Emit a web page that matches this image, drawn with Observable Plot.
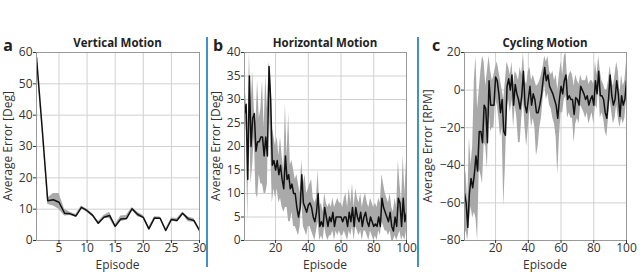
<!DOCTYPE html>
<html>
<head>
<meta charset="utf-8">
<script src="https://cdn.jsdelivr.net/npm/d3@7"></script>
<script src="https://cdn.jsdelivr.net/npm/@observablehq/plot@0.6"></script>
<style>
  html, body { margin: 0; padding: 0; background: #fff; }
  #wrap { position: relative; width: 640px; height: 272px; overflow: hidden; font-family: "Open Sans", sans-serif; color: #222; }
  .abs { position: absolute; white-space: nowrap; line-height: 1; }
  .title { font-weight: bold; font-size: 11.5px; transform: translate(-50%, -50%); }
  .letter { font-weight: bold; font-size: 16px; transform: translate(-50%, -50%); }
  .xlab { font-size: 12px; transform: translate(-50%, -50%); color: #333; }
  .ylab { font-size: 12px; transform: translate(-50%, -50%) rotate(-90deg); color: #333; }
  .sep { position: absolute; width: 1.6px; background: #3f93c9; }
</style>
</head>
<body>
<div id="wrap"></div>
<script>
// ---------- Data ----------
// Panel a: Vertical Motion (episodes 1-30)
const epA = d3.range(1, 31);
const meanA = [58.5, 36, 12.7, 13, 12.2, 8.7, 8.5, 7.8, 10.6, 9.5, 8, 5.5, 7.4, 8, 4.5, 6.9, 7, 10.1, 8.3, 7.4, 3.7, 7.2, 7.1, 3.2, 6.7, 6.4, 8.7, 6.9, 6.4, 3.2];
const lowA  = [57, 35.5, 11.5, 11, 10, 7.8, 8, 7.4, 10.2, 9, 7.5, 5, 7, 7, 4, 6, 6.5, 9.8, 7.6, 7, 3.2, 6.8, 6.7, 2.7, 6.2, 5.8, 8.3, 6, 5.8, 2.9];
const highA = [60, 36.5, 13.5, 15, 15, 10, 9, 8.3, 11, 10, 8.5, 6, 8, 9, 5, 7.8, 8, 10.5, 9, 8, 4.2, 7.6, 7.5, 3.7, 7.2, 7, 9, 7.5, 7, 3.5];

// Panel b: Horizontal Motion (episodes 1-100)
const epB = d3.range(1, 101);
const meanB = [27, 29, 13, 35, 20, 26, 27, 19, 21, 21, 22, 22, 18, 22, 18, 37, 30, 16, 17, 15,
               17, 14, 16, 13, 11, 18, 13, 14, 11, 12, 10, 10, 7, 5, 7, 14, 8, 7, 6, 7.5,
               8, 7, 5, 4, 6, 10, 3, 4, 3, 7, 5, 3, 5, 4, 6, 3, 5, 5, 5, 5,
               4, 5, 5, 3, 6, 4, 7, 3, 7, 5, 4, 6, 3, 5, 6, 4, 3, 5, 4, 3,
               3.5, 3, 5, 3, 9, 7, 6, 5, 4, 6, 3, 2, 5, 3, 9, 8, 3, 9, 4, 6];
const lowB  = [20, 25, 4, 28, 12, 16, 22, 10, 9, 14, 12, 12, 10, 10, 12, 30, 20, 8, 11, 9,
               11, 8, 9, 7, 6, 7, 7, 4, 4, 6, 3, 3, 2, 1, 3, 8, 3, 2, 1, 3,
               3, 2, 1, 0, 2, 4, 0, 1, 0, 3, 1, 0, 1, 1, 2, 0, 2, 1, 2, 1,
               1, 2, 1, 0, 2, 1, 3, 0, 3, 2, 1, 2, 0, 2, 2, 1, 0, 2, 1, 0,
               1, 0, 2, 1, 4, 3, 2, 2, 1, 2, 0, 0, 1, 0, 1, 2, 0, 1, 0, 2];
const highB = [34, 30, 20, 40, 28, 36, 28, 25, 34, 26, 28, 34, 24, 35, 28, 38, 35, 24, 22, 20,
               22, 18, 22, 18, 15, 29, 18, 27, 16, 17, 15, 13, 14, 12, 10, 17, 12, 14, 10, 11,
               12, 13, 9, 8, 9, 15, 7, 8, 6, 10, 8, 7, 8, 7, 9, 7, 8, 9, 8, 8,
               7, 9, 10, 7, 11, 8, 12, 7, 11, 9, 8, 10, 7, 9, 10, 8, 7, 9, 8, 7,
               8, 7, 9, 8, 14, 12, 10, 9, 8, 10, 7, 6, 9, 7, 17, 12, 8, 18, 10, 17];

// Panel c: Cycling Motion (episodes 1-100)
const epC = d3.range(1, 101);
const meanC = [-55, -60, -73, -55, -47, -52, -45, -35, -43, -22, -22, -28, -8, -10, -28, 5, -8, -8, -8, 7,
               5, -2, -12, -5, -22, -24, 2, 6, 0, 8, -8, 3, -2, -5, -10, -3, 10, -8, -12, -5,
               2, -8, -2, -5, -12, -12, -8, -3, 5, 12, 5, 8, 2, 0, -2, -5, -8, -15, -5, 2,
               -2, 5, 8, -5, -3, -5, -5, -13, -4, -5, -8, 2, 0, -2, -5, -3, -8, -5, -3, -8,
               5, -2, 10, -3, -3, -5, -12, -15, -5, 8, -3, -8, -5, 5, -2, -14, -3, -8, -5, 5];
const lowC  = [-78, -75, -80, -70, -62, -68, -65, -68, -80, -42, -45, -50, -28, -30, -42, -10, -22, -20, -20, -5,
               -8, -15, -25, -20, -62, -40, -10, -5, -12, -5, -20, -8, -15, -28, -28, -15, -5, -20, -30, -20,
               -10, -20, -15, -20, -35, -30, -20, -15, -5, 3, -5, -2, -8, -10, -15, -18, -25, -45, -25, -12,
               -12, -5, -3, -15, -12, -15, -15, -28, -18, -15, -18, -8, -10, -12, -15, -12, -18, -15, -12, -18,
               -8, -10, 2, -15, -12, -15, -22, -25, -15, -5, -12, -18, -15, -8, -15, -20, -15, -18, -15, -5];
const highC = [-40, -45, -60, -25, -40, -30, 5, 18, -10, 0, 10, 18, 15, 2, 10, 18, 10, 5, 8, 12,
               15, 10, 5, 0, -5, 5, 15, 12, 8, 15, 3, 10, 8, 5, 12, 8, 20, 5, 3, 10,
               12, 5, 8, 5, 2, 3, 5, 8, 12, 18, 15, 18, 10, 8, 10, 5, 8, 0, 8, 15,
               8, 18, 20, 5, 8, 10, 8, 2, 8, 5, 3, 8, 5, 5, 5, 8, 3, 5, 5, 3,
               15, 8, 18, 10, 5, 3, 0, 0, 5, 13, 5, 2, 8, 15, 10, -2, 8, 2, 5, 15];

const ticksXA = [5, 10, 15, 20, 25, 30];
const ticksXB = [20, 40, 60, 80, 100];
const ticksYA = [0, 10, 20, 30, 40, 50, 60];
const ticksYB = [0, 5, 10, 15, 20, 25, 30, 35, 40];
const ticksYC = [-80, -60, -40, -20, 0, 20];

const panels = [
  {letter: "a", title: "Vertical Motion", ylabel: "Average Error [Deg]", ep: epA, mean: meanA, low: lowA, high: highA,
   xdom: [1, 30], ydom: [0, 60], xt: ticksXA, yt: ticksYA,
   left: 0, width: 207, mL: 36, mR: 8, letterX: 8, ylabX: 8},
  {letter: "b", title: "Horizontal Motion", ylabel: "Average Error [Deg]", ep: epB, mean: meanB, low: lowB, high: highB,
   xdom: [1, 100], ydom: [0, 40], xt: ticksXB, yt: ticksYB,
   left: 207, width: 211, mL: 37, mR: 12, letterX: 218, ylabX: 216},
  {letter: "c", title: "Cycling Motion", ylabel: "Average Error [RPM]", ep: epC, mean: meanC, low: lowC, high: highC,
   xdom: [1, 100], ydom: [-80, 20], xt: ticksXB, yt: ticksYC,
   left: 418, width: 222, mL: 46, mR: 14, letterX: 436, ylabX: 428}
];

const wrap = document.getElementById("wrap");
const H = 272, mT = 52, mB = 32;

function addDiv(cls, text, x, y) {
  const d = document.createElement("div");
  d.className = "abs " + cls;
  d.textContent = text;
  d.style.left = x + "px";
  d.style.top = y + "px";
  wrap.appendChild(d);
  return d;
}

for (const p of panels) {
  const data = p.ep.map((e, i) => ({ep: e, mean: p.mean[i], low: p.low[i], high: p.high[i]}));
  const svg = Plot.plot({
    width: p.width,
    height: H,
    marginLeft: p.mL,
    marginRight: p.mR,
    marginTop: mT,
    marginBottom: mB,
    style: {fontFamily: "Open Sans, sans-serif", color: "#333", background: "transparent"},
    x: {domain: p.xdom},
    y: {domain: p.ydom},
    marks: [
      Plot.gridX(p.xt, {stroke: "#d0d0d0", strokeOpacity: 1}),
      Plot.gridY(p.yt, {stroke: "#d0d0d0", strokeOpacity: 1}),
      Plot.areaY(data, {x: "ep", y1: "low", y2: "high", fill: "#a9a9a9", fillOpacity: 1, clip: true}),
      Plot.lineY(data, {x: "ep", y: "mean", stroke: "#111", strokeWidth: 1.5, clip: true}),
      Plot.frame({stroke: "#999", strokeWidth: 1}),
      Plot.axisX(p.xt, {label: null, tickSize: 3, tickPadding: 0, fontSize: 12}),
      Plot.axisY(p.yt, {label: null, tickSize: 3, tickPadding: 1, fontSize: 12})
    ]
  });
  svg.style.position = "absolute";
  svg.style.left = p.left + "px";
  svg.style.top = "0px";
  wrap.appendChild(svg);

  const fx0 = p.left + p.mL, fx1 = p.left + p.width - p.mR;
  const cx = (fx0 + fx1) / 2;
  addDiv("title", p.title, cx, 43);
  addDiv("letter", p.letter, p.letterX, 45);
  addDiv("xlab", "Episode", cx, 264.5);
  addDiv("ylab", p.ylabel, p.ylabX, (mT + (H - mB)) / 2);
}

// blue separators between panels
for (const x of [207, 418]) {
  const s = document.createElement("div");
  s.className = "sep";
  s.style.left = (x - 0.8) + "px";
  s.style.top = "37px";
  s.style.height = "230px";
  wrap.appendChild(s);
}
</script>
</body>
</html>
